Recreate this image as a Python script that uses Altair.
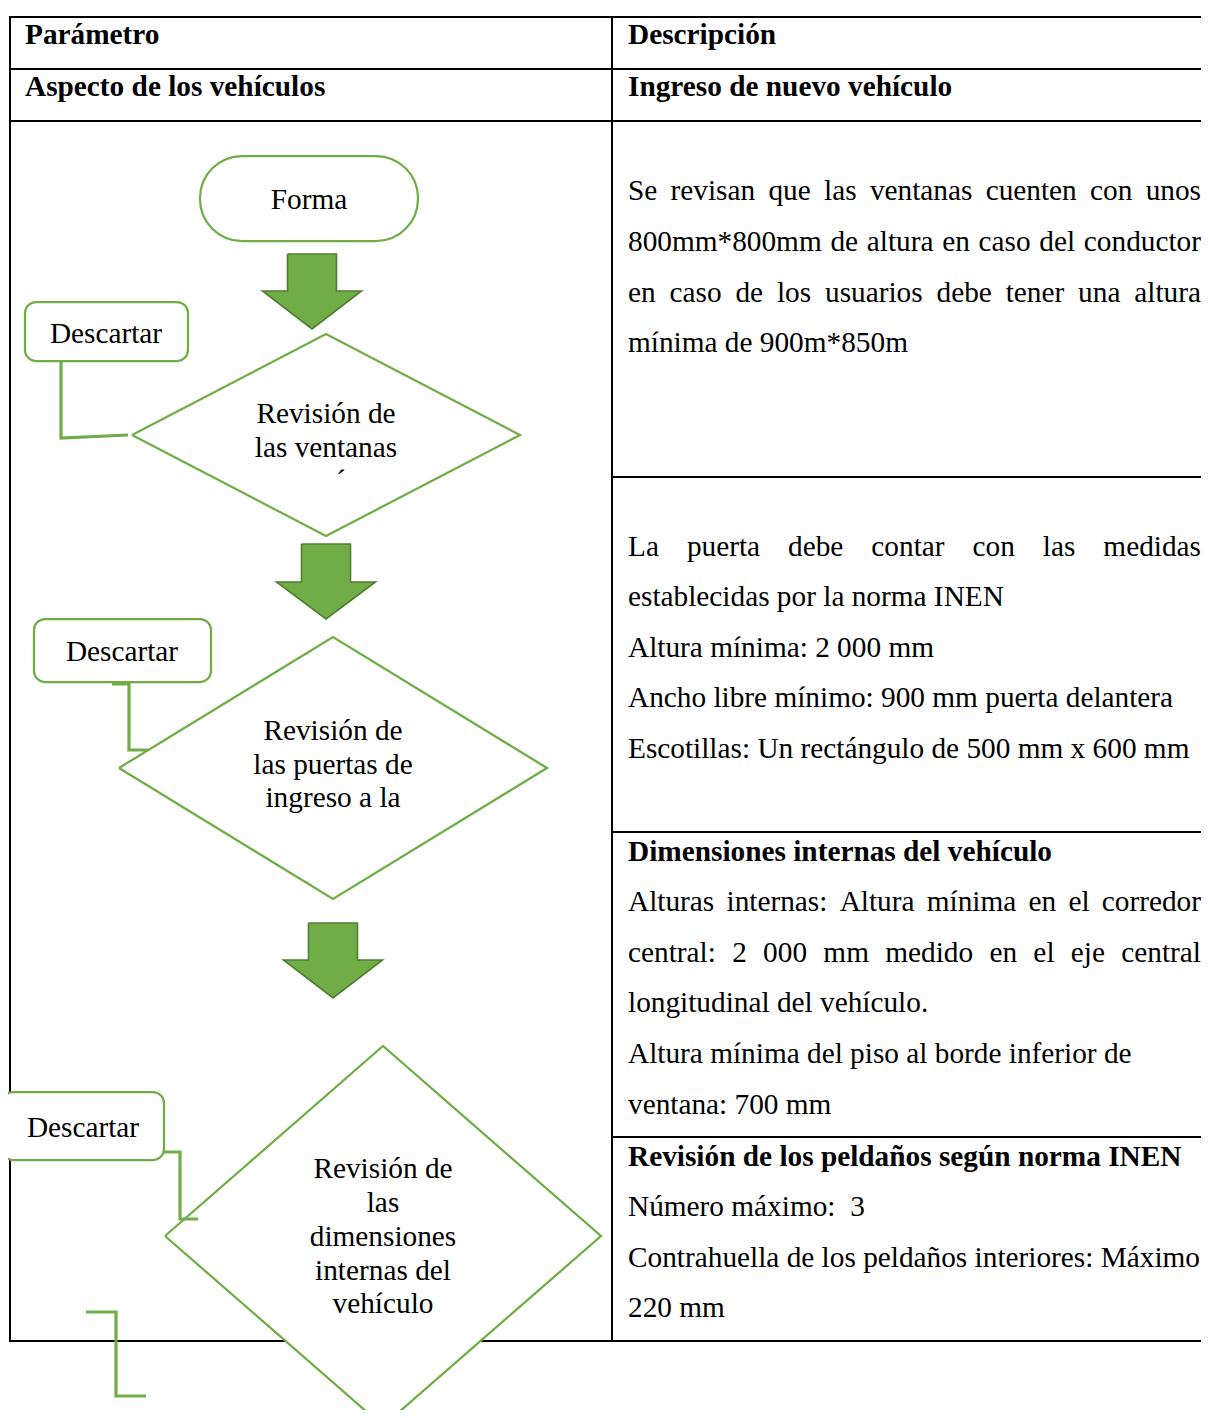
import altair as alt
import pandas as pd

FONT = "Liberation Serif"
FS = 29.3
GREEN = "#70AD47"
DARK = "#507E32"

# ---------------- table grid ----------------
grid_x1 = [10, 10, 10, 612, 612, 612, 10, 10, 612]
grid_x2 = [1209, 1209, 1209, 1209, 1209, 1209, 1209, 10, 612]
grid_y1 = [17, 69, 121, 477, 832, 1137, 1341, 17, 17]
grid_y2 = [17, 69, 121, 477, 832, 1137, 1341, 1341, 1341]

# ---------------- header texts ----------------
head_text = ["Parámetro", "Descripción", "Aspecto de los vehículos", "Ingreso de nuevo vehículo"]
head_x = [25, 628, 25, 628]
head_y = [44, 44, 96, 96]

# ---------------- description column ----------------
desc_lines = [
    "Se revisan que las ventanas cuenten con unos",
    "800mm*800mm de altura en caso del conductor",
    "en caso de los usuarios debe tener una altura",
    "mínima de 900m*850m",
    "La puerta debe contar con las medidas",
    "establecidas por la norma INEN",
    "Altura mínima: 2 000 mm",
    "Ancho libre mínimo: 900 mm puerta delantera",
    "Escotillas: Un rectángulo de 500 mm x 600 mm",
    "Dimensiones internas del vehículo",
    "Alturas internas: Altura mínima en el corredor",
    "central: 2 000 mm medido en el eje central",
    "longitudinal del vehículo.",
    "Altura mínima del piso al borde inferior de",
    "ventana: 700 mm",
    "Revisión de los peldaños según norma INEN",
    "Número máximo:\u00a0 3",
    "Contrahuella de los peldaños interiores: Máximo",
    "220 mm",
]
desc_y = [200, 251, 302, 352, 556, 606, 657, 707, 758,
          861, 911, 962, 1012, 1063, 1114, 1166, 1216, 1267, 1317]
desc_bold = [False] * 9 + [True] + [False] * 5 + [True] + [False] * 3
desc_just = [True, True, True, False, True, False, False, False, False,
             False, True, True, False, False, False, False, False, False, False]
LEFT, RIGHT = 628, 1201

# ---------------- flowchart shapes ----------------
term_x1, term_x2, term_y1, term_y2 = [200], [418], [156], [241]
box_x1 = [25, 34, 2]
box_x2 = [188, 211, 164]
box_y1 = [302, 619, 1092]
box_y2 = [361, 682, 1160]

dia_cx = [326, 333, 383]
dia_cy = [435, 768, 1236]
dia_hw = [194, 214, 218]
dia_hh = [101, 131, 190]

arr_cx = [312, 326, 333]
arr_top = [254, 544, 923]
arr_neck = [291, 582, 960]
arr_tip = [329, 619, 998]
SHAFT_HW, HEAD_HW = 24.5, 49.5

connectors = [
    [(61, 362), (61, 438), (128, 435)],
    [(112, 684), (129, 684), (129, 750), (148, 750)],
    [(164, 1152), (180, 1152), (180, 1219), (198, 1219)],
    [(86, 1312), (116, 1312), (116, 1396), (146, 1396)],
]

flow_text = ["Forma", "Descartar", "Revisión de", "las ventanas", "´",
             "Descartar", "Revisión de", "las puertas de", "ingreso a la",
             "Descartar", "Revisión de", "las", "dimensiones", "internas del", "vehículo"]
flow_x = [309, 106, 326, 326, 341, 122, 333, 333, 333, 83, 383, 383, 383, 383, 383]
flow_y = [209, 343, 423, 457, 490, 661, 740, 774, 807, 1137, 1178, 1212, 1246, 1280, 1313]

# ---------------- Times metrics for justification ----------------
W = {' ': 250, '\u00a0': 250, 'a': 444, 'b': 500, 'c': 444, 'd': 500, 'e': 444, 'f': 333,
     'g': 500, 'h': 500, 'i': 278, 'j': 278, 'k': 500, 'l': 278, 'm': 778, 'n': 500,
     'o': 500, 'p': 500, 'q': 500, 'r': 333, 's': 389, 't': 278, 'u': 500, 'v': 500,
     'w': 722, 'x': 500, 'y': 500, 'z': 444, 'A': 722, 'C': 667, 'D': 722, 'E': 611,
     'I': 333, 'L': 611, 'M': 889, 'N': 722, 'S': 556, 'U': 722, 'á': 444, 'é': 444,
     'í': 278, 'ó': 500, 'ú': 500, 'ñ': 500, ':': 278, '.': 250, '*': 500}


def tw(s):
    return sum(W.get(c, 500) for c in s) * FS / 1000.0


# ---------------- build tables ----------------
grid_df = pd.DataFrame({"x": grid_x1, "x2": grid_x2, "y": grid_y1, "y2": grid_y2})
head_df = pd.DataFrame({"x": head_x, "y": head_y, "t": head_text})

reg_rows, bold_rows = [], []
for line, yb, bold, just in zip(desc_lines, desc_y, desc_bold, desc_just):
    target = bold_rows if bold else reg_rows
    if just:
        words = line.split()
        widths = [tw(w) for w in words]
        gap = (RIGHT - LEFT - sum(widths)) / (len(words) - 1)
        xp = LEFT
        for w, wd in zip(words, widths):
            target.append({"x": xp, "y": yb, "t": w})
            xp += wd + gap
    else:
        target.append({"x": LEFT, "y": yb, "t": line})
reg_df = pd.DataFrame(reg_rows)
bold_df = pd.DataFrame(bold_rows)

term_df = pd.DataFrame({"x": term_x1, "x2": term_x2, "y": term_y1, "y2": term_y2})
box_df = pd.DataFrame({"x": box_x1, "x2": box_x2, "y": box_y1, "y2": box_y2})

dfill, dline = [], []
for i, (cx, cy, hw, hh) in enumerate(zip(dia_cx, dia_cy, dia_hw, dia_hh)):
    dfill += [{"id": i, "x": cx - hw, "y": cy, "y2": cy},
              {"id": i, "x": cx, "y": cy - hh, "y2": cy + hh},
              {"id": i, "x": cx + hw, "y": cy, "y2": cy}]
    pts = [(cx - hw, cy), (cx, cy - hh), (cx + hw, cy), (cx, cy + hh), (cx - hw, cy)]
    dline += [{"id": i, "k": k, "x": px, "y": py} for k, (px, py) in enumerate(pts)]
dfill_df = pd.DataFrame(dfill)
dline_df = pd.DataFrame(dline)

shaft, head, aline = [], [], []
for i, (cx, t, n, tip) in enumerate(zip(arr_cx, arr_top, arr_neck, arr_tip)):
    shaft.append({"x": cx - SHAFT_HW, "x2": cx + SHAFT_HW, "y": t, "y2": n})
    head += [{"id": i, "x": cx - HEAD_HW, "y": n, "y2": n},
             {"id": i, "x": cx, "y": tip, "y2": n},
             {"id": i, "x": cx + HEAD_HW, "y": n, "y2": n}]
    pts = [(cx - SHAFT_HW, t), (cx + SHAFT_HW, t), (cx + SHAFT_HW, n), (cx + HEAD_HW, n),
           (cx, tip), (cx - HEAD_HW, n), (cx - SHAFT_HW, n), (cx - SHAFT_HW, t)]
    aline += [{"id": i, "k": k, "x": px, "y": py} for k, (px, py) in enumerate(pts)]
shaft_df = pd.DataFrame(shaft)
head_tri_df = pd.DataFrame(head)
aline_df = pd.DataFrame(aline)

conn_df = pd.DataFrame([{"id": i, "k": k, "x": px, "y": py}
                        for i, seg in enumerate(connectors) for k, (px, py) in enumerate(seg)])
flow_df = pd.DataFrame({"x": flow_x, "y": flow_y, "t": flow_text})

# ---------------- scales (1 data unit = 1 screen pixel; page margin is 8px) ----------------
xs = alt.Scale(domain=[8, 1201], nice=False, zero=False)
ys = alt.Scale(domain=[8, 1410], nice=False, zero=False, reverse=True)


def X(f="x"):
    return alt.X(f"{f}:Q", scale=xs, axis=None)


def Y(f="y"):
    return alt.Y(f"{f}:Q", scale=ys, axis=None)


rules = alt.Chart(grid_df).mark_rule(color="black", strokeWidth=2, strokeCap="square").encode(
    x=X(), x2="x2:Q", y=Y(), y2="y2:Q")

term = alt.Chart(term_df).mark_rect(cornerRadius=42, fill="white", stroke=GREEN, strokeWidth=2.25).encode(
    x=X(), x2="x2:Q", y=Y(), y2="y2:Q")
boxes = alt.Chart(box_df).mark_rect(cornerRadius=11, fill="white", stroke=GREEN, strokeWidth=2.25).encode(
    x=X(), x2="x2:Q", y=Y(), y2="y2:Q")

dia_fill = alt.Chart(dfill_df).mark_area(orient="vertical", color="white", opacity=1).encode(
    x=X(), y=Y(), y2="y2:Q", detail="id:N")
dia_line = alt.Chart(dline_df).mark_line(color=GREEN, strokeWidth=2.25, strokeJoin="miter").encode(
    x=X(), y=Y(), detail="id:N", order="k:Q")

arr_shaft = alt.Chart(shaft_df).mark_rect(color=GREEN, opacity=1).encode(
    x=X(), x2="x2:Q", y=Y(), y2="y2:Q")
arr_head = alt.Chart(head_tri_df).mark_area(orient="vertical", color=GREEN, opacity=1).encode(
    x=X(), y=Y(), y2="y2:Q", detail="id:N")
arr_line = alt.Chart(aline_df).mark_line(color=DARK, strokeWidth=1.6, strokeJoin="miter").encode(
    x=X(), y=Y(), detail="id:N", order="k:Q")

conn = alt.Chart(conn_df).mark_line(color=GREEN, strokeWidth=3.2, strokeJoin="miter").encode(
    x=X(), y=Y(), detail="id:N", order="k:Q")

txt_kw = dict(font=FONT, fontSize=FS, color="black", baseline="alphabetic")
head_txt = alt.Chart(head_df).mark_text(align="left", fontWeight="bold", **txt_kw).encode(
    x=X(), y=Y(), text="t:N")
reg_txt = alt.Chart(reg_df).mark_text(align="left", **txt_kw).encode(x=X(), y=Y(), text="t:N")
bold_txt = alt.Chart(bold_df).mark_text(align="left", fontWeight="bold", **txt_kw).encode(
    x=X(), y=Y(), text="t:N")
flow_txt = alt.Chart(flow_df).mark_text(align="center", **txt_kw).encode(x=X(), y=Y(), text="t:N")

chart = alt.layer(
    rules, term, boxes, dia_fill, dia_line, arr_shaft, arr_head, arr_line, conn,
    head_txt, reg_txt, bold_txt, flow_txt,
).properties(
    width=1193, height=1402, padding=0,
    autosize=alt.AutoSizeParams(type="none"),
).configure_view(stroke=None)

chart.save("out.html", embed_options={"renderer": "svg", "actions": False})
